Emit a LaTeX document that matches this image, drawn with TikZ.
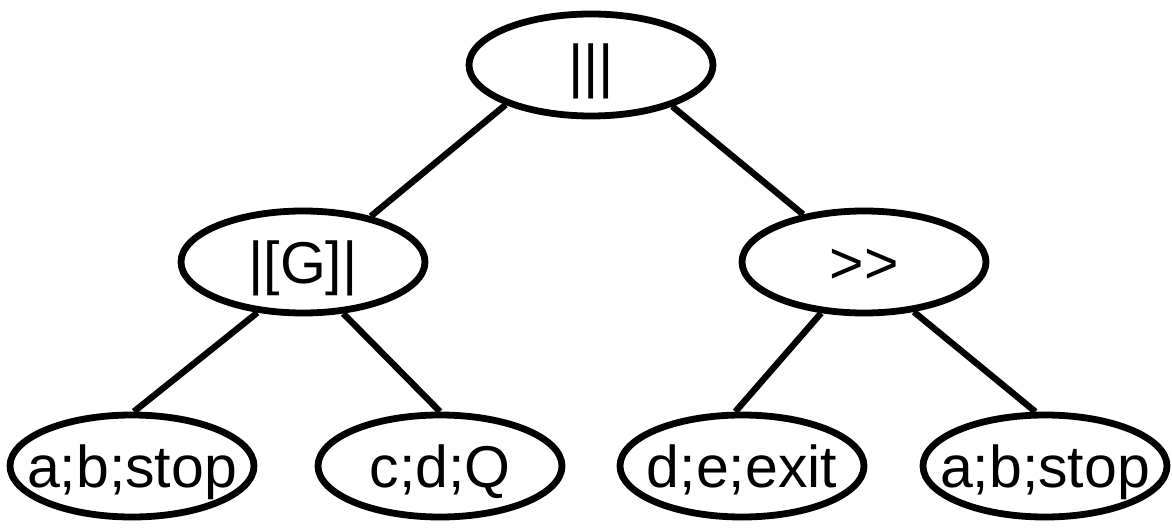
\documentclass[tikz,border=0pt]{standalone}
\usepackage{fontspec}
\setmainfont{Liberation Sans}
\usetikzlibrary{shapes.geometric}
% label text that does not widen the ellipse around it
\newcommand{\ntext}[1]{\makebox[0pt][c]{#1}}
\begin{document}
\begin{tikzpicture}[x=0.5pt,y=-0.5pt,
  tnode/.style={ellipse, draw=black, line width=3.4pt, inner sep=0pt,
    minimum width=122pt, minimum height=51pt,
    text height=21.5pt, text depth=0pt,
    font=\fontsize{29.5}{35}\selectfont},
  edge/.style={draw=black, line width=3.2pt}]
\useasboundingbox (0,0) rectangle (1172,529);
% tree nodes
\node[tnode] (root) at (591,65)  {\ntext{|||}};
\node[tnode] (par)  at (303,262) {\ntext{|[G]|}};
\node[tnode] (seq)  at (864,262) {\ntext{>\kern0pt>}};
\node[tnode] (l1)   at (132,466) {\ntext{a;b;stop}};
\node[tnode] (l2)   at (440,466) {\ntext{c;d;Q}};
\node[tnode] (l3)   at (742,466) {\ntext{d;e;exit}};
\node[tnode] (l4)   at (1045,466) {\ntext{a;b;stop}};
% branches
\draw[edge] (root.205) -- (par.34);
\draw[edge] (root.333) -- (seq.142);
\draw[edge] (par.228) -- (l1.88);
\draw[edge] (par.308) -- (l2.90);
\draw[edge] (seq.230) -- (l3.97);
\draw[edge] (seq.315) -- (l4.100);
\end{tikzpicture}
\end{document}
